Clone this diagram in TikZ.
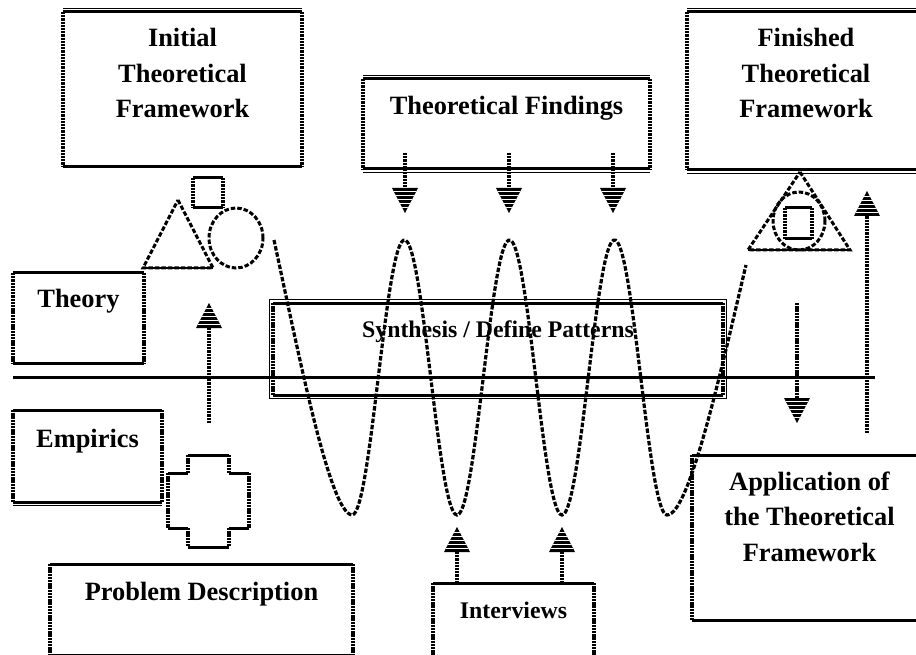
\documentclass[tikz,border=0pt]{standalone}
\usepackage{fontspec}
\setmainfont{Liberation Serif}
\usetikzlibrary{calc}

\tikzset{
  hbar/.style={draw=black, line width=3pt},
  vdots/.style={draw=black, line width=3.2pt, dash pattern=on 2.3pt off 0.9pt},
  hairline/.style={draw=black, line width=0.8pt},
  dashline/.style={draw=black, line width=3pt, dash pattern=on 4.5pt off 2pt},
  wave/.style={draw=black, line width=3.2pt, dash pattern=on 4.5pt off 1.8pt},
  frame/.style={inner sep=0pt, outer sep=0pt, anchor=north west},
  lbl/.style={font=\bfseries\fontsize{26.4}{35.5}\selectfont, align=center, inner sep=0pt, anchor=base},
  lblsmall/.style={font=\bfseries\fontsize{23.8}{28}\selectfont, inner sep=0pt, anchor=base},
  headdown/.pic={
    \fill (-13,-25) -- (13,-25) -- (0,0) -- cycle;
    \begin{scope}
      \clip (-13,-25) -- (13,-25) -- (0,0) -- cycle;
      \foreach \k in {3.5,7.5,11.5,15.5,19.5}
        \draw[white, line width=1.1pt] (-14,-25+\k) -- (14,-25+\k);
    \end{scope}
  },
  headup/.pic={
    \fill (-13,25) -- (13,25) -- (0,0) -- cycle;
    \begin{scope}
      \clip (-13,25) -- (13,25) -- (0,0) -- cycle;
      \foreach \k in {3.5,7.5,11.5,15.5,19.5}
        \draw[white, line width=1.1pt] (-14,25-\k) -- (14,25-\k);
    \end{scope}
  }
}

% frame of a box: solid top and bottom, finely dotted sides
\newcommand\boxedges[1]{%
  \path[hbar] (#1.north west) -- (#1.north east) (#1.south west) -- (#1.south east);
  \path[vdots] (#1.north west) -- (#1.south west) (#1.north east) -- (#1.south east);}
\newcommand\thintop[1]{%
  \path[hairline] ([yshift=3.5pt]#1.north west) -- ([yshift=3.5pt]#1.north east);}
\newcommand\thinbottom[1]{%
  \path[hairline] ([yshift=-3.5pt]#1.south west) -- ([yshift=-3.5pt]#1.south east);}

\begin{document}
\begin{tikzpicture}[x=1pt, y=-1pt]
  \useasboundingbox (0,0) rectangle (916,655);
  \fill[white] (0,0) rectangle (916,655);

  % boxes
  \node[frame, minimum width=239pt, minimum height=155pt] (itf) at (63,12) {};
  \node[frame, minimum width=287pt, minimum height=90pt]  (tf)  at (363,79) {};
  \node[frame, minimum width=238pt, minimum height=158pt] (ftf) at (687,12) {};
  \node[frame, minimum width=131pt, minimum height=90pt]  (th)  at (13,273) {};
  \node[frame, minimum width=149pt, minimum height=92pt]  (em)  at (13,410) {};
  \node[frame, minimum width=303pt, minimum height=91pt]  (pd)  at (50,564) {};
  \node[frame, minimum width=161pt, minimum height=80pt]  (iv)  at (433,583) {};
  \node[frame, minimum width=235pt, minimum height=165pt] (app) at (692,455) {};
  \node[frame, minimum width=450pt, minimum height=92pt]  (syn) at (273,303) {};

  \foreach \b in {itf,tf,ftf,th,em,pd,iv,app,syn} {\boxedges{\b}}
  \thintop{itf} \thintop{tf} \thinbottom{tf} \thintop{ftf} \thinbottom{ftf}
  \thinbottom{em}
  \path[hairline] ([shift={(-3.5pt,3.5pt)}]syn.north west) rectangle ([shift={(3.5pt,-3.5pt)}]syn.south east);

  % initial framework symbols
  \path[dashline] (178,200) -- (213,268) -- (143,268) -- cycle;
  \path[hbar, line width=2.2pt] (143,268) -- (213,268);
  \path[dashline] (236,238) ellipse [x radius=27pt, y radius=30pt];
  \path[hbar] (193,178) -- (223,178) (193,208) -- (223,208);
  \path[vdots] (193,178) -- (193,208) (223,178) -- (223,208);

  % finished framework symbol
  \path[dashline] (800,172) -- (850,250) -- (748,250) -- cycle;
  \path[hbar, line width=2.2pt] (748,250) -- (850,250);
  \path[dashline] (799,221) ellipse [x radius=26pt, y radius=29pt];
  \path[hbar] (785,208) -- (812,208) (785,239) -- (812,239);
  \path[vdots] (785,208) -- (785,239) (812,208) -- (812,239);

  % cross
  \path[hbar] (188,455) -- (229,455) (168,473) -- (188,473) (229,473) -- (249,473)
              (168,528) -- (188,528) (229,528) -- (249,528) (188,547) -- (229,547);
  \path[vdots] (188,455) -- (188,473) (229,455) -- (229,473) (168,473) -- (168,528)
               (249,473) -- (249,528) (188,528) -- (188,547) (229,528) -- (229,547);

  % iteration wave
  \path[wave] (274,240) .. controls (300,360) and (330,513) .. (352,515)
    -- plot[domain=352:667, samples=160, smooth] (\x, {377.5+137.5*cos(3.428571*(\x-352))})
    .. controls (689,515) and (720,375) .. (746,265);

  % texts
  \node[lbl] (itf-t) at (182.5,118) {Initial\\Theoretical\\Framework};
  \node[lbl] (tf-t)  at (506.5,115) {Theoretical Findings};
  \node[lbl] (ftf-t) at (806,118) {Finished\\Theoretical\\Framework};
  \node[lbl] (th-t)  at (78.5,308) {Theory};
  \node[lbl] (em-t)  at (87.5,447) {Empirics};
  \node[lbl] (pd-t)  at (201.5,600) {Problem Description};
  \node[lblsmall] (iv-t) at (513.5,618) {Interviews};
  \node[lbl] (app-t) at (809.5,561) {Application of\\the Theoretical\\Framework};
  \node[lblsmall] (syn-t) at (498,337) {Synthesis / Define Patterns};

  % theory / empirics divide
  \coordinate (divL) at (13,377);
  \coordinate (divR) at (875,377);
  \path[hbar] (divL) -- (divR);

  % connectors
  \coordinate (la0) at (209,423); \coordinate (la1) at (209,326);
  \path[vdots] (la0) -- (la1);
  \pic at (209,303) {headup};

  \foreach \xx/\nm in {405/a,509/b,613/c} {
    \coordinate (fs\nm) at (\xx,153);
    \coordinate (fe\nm) at (\xx,190);
    \path[vdots] (fs\nm) -- (fe\nm);
    \pic at (\xx,213) {headdown};
  }
  \foreach \xx/\nm in {457/a,562/b} {
    \coordinate (is\nm) at (\xx,583);
    \coordinate (ie\nm) at (\xx,550);
    \path[vdots] (is\nm) -- (ie\nm);
    \pic at (\xx,527) {headup};
  }
  \coordinate (rd0) at (797,303); \coordinate (rd1) at (797,400);
  \path[vdots] (rd0) -- (rd1);
  \pic at (797,423) {headdown};
  \coordinate (ru0) at (867,433); \coordinate (ru1) at (867,213);
  \path[vdots] (ru0) -- (ru1);
  \pic at (867,191) {headup};
\end{tikzpicture}
\end{document}
